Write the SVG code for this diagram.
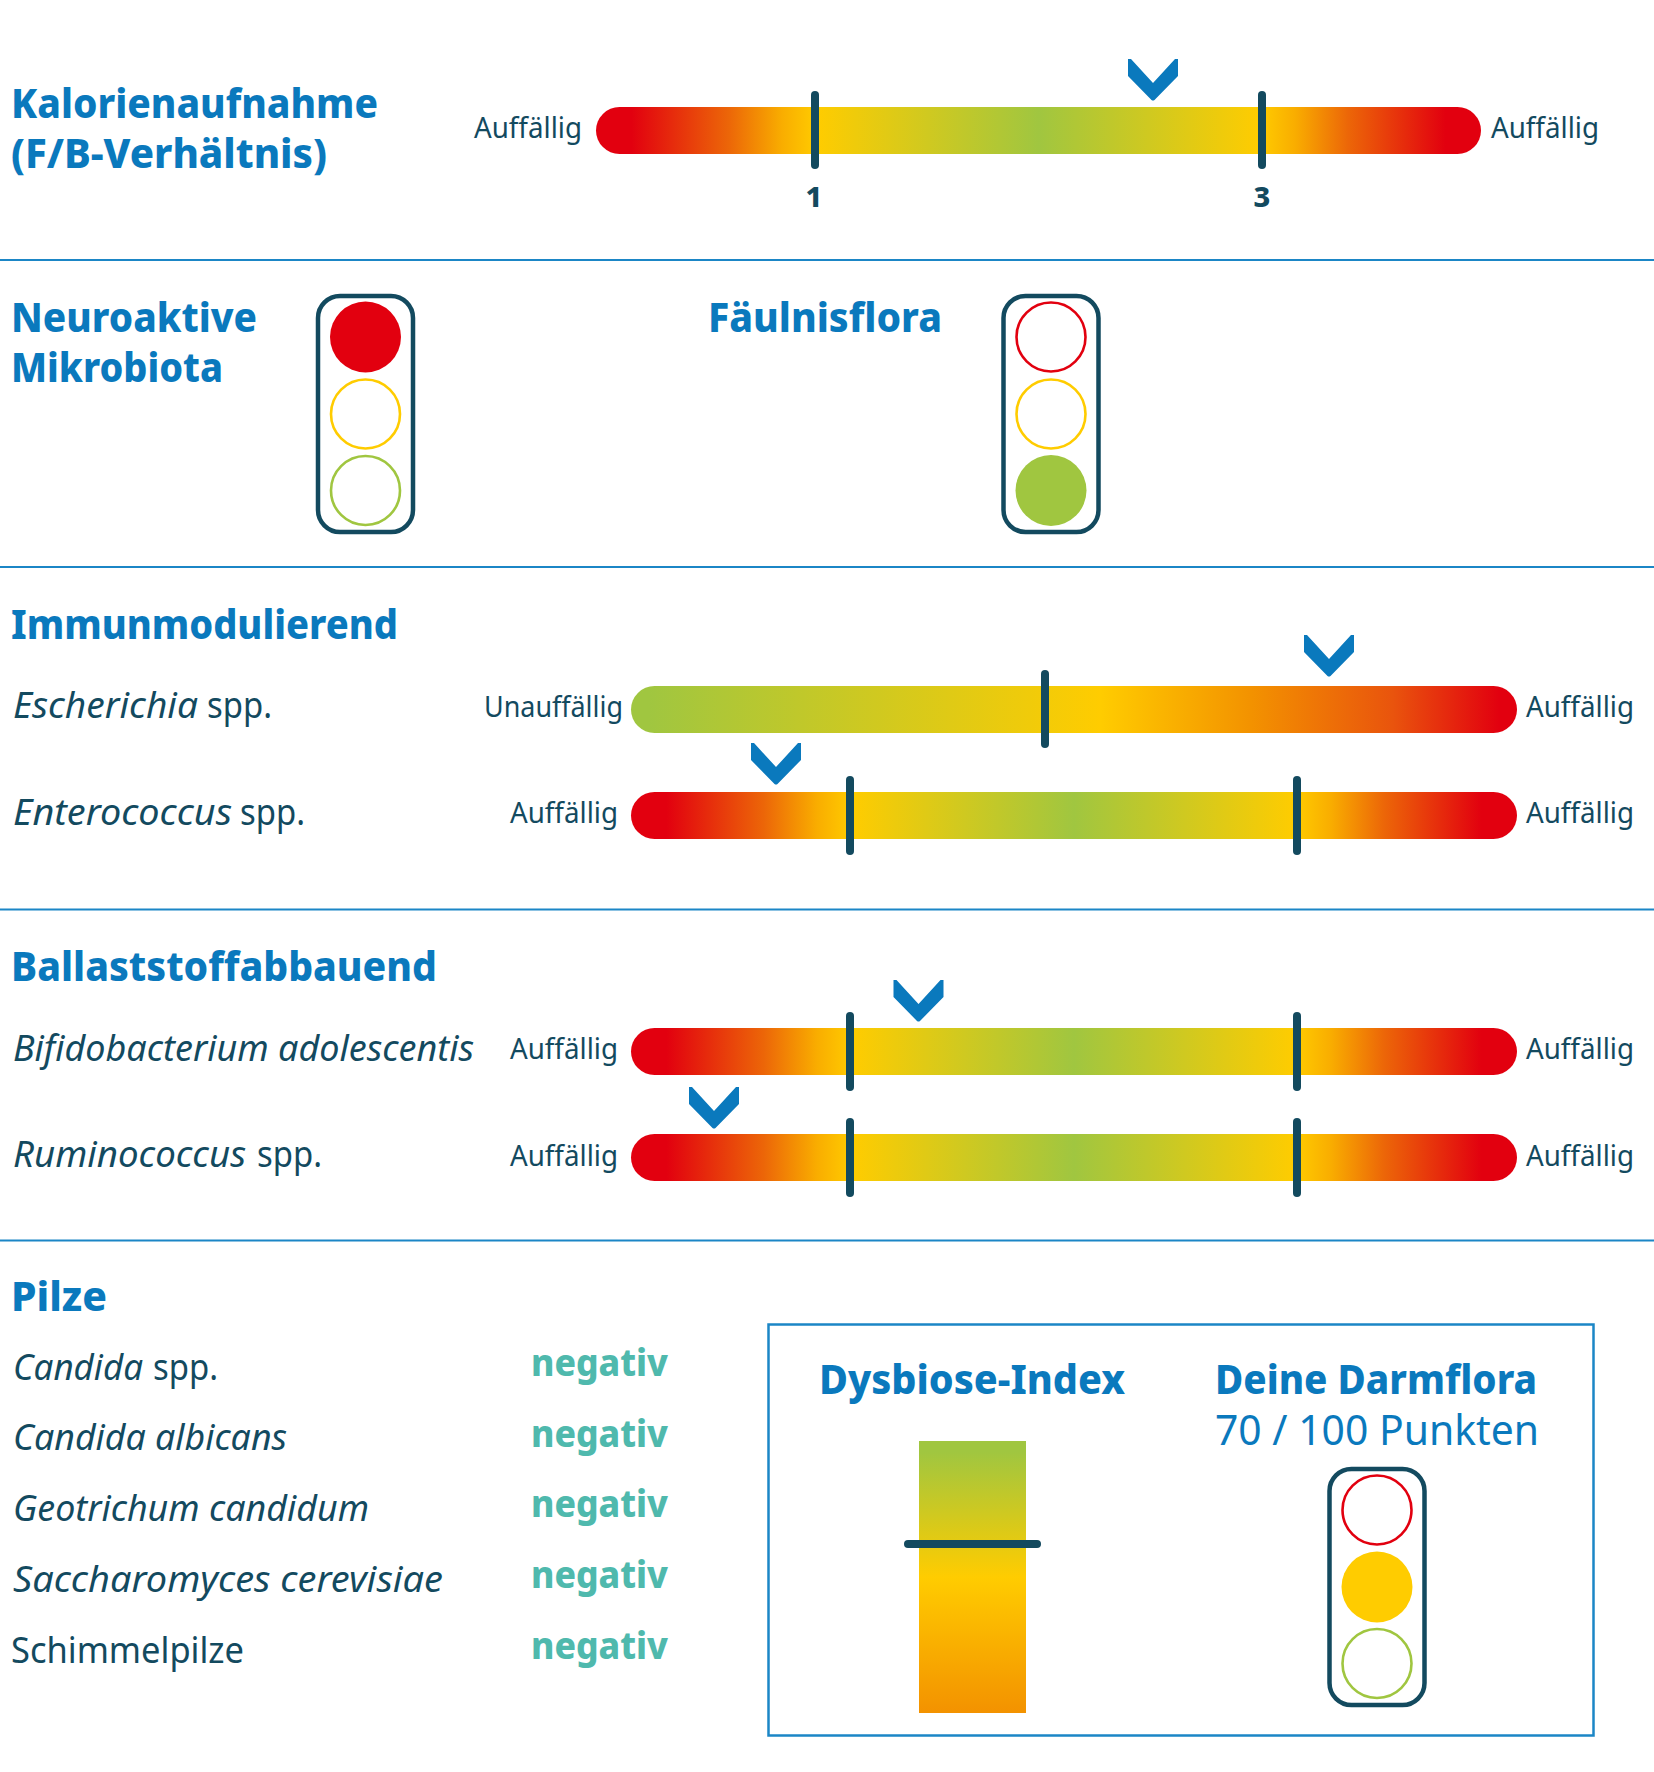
<svg xmlns="http://www.w3.org/2000/svg" width="1654" height="1772" viewBox="0 0 1654 1772">
<style>
text{font-family:"Noto Sans","Liberation Sans",sans-serif;fill:#134a5f}
.h{font-size:41px;font-weight:800;fill:#0a79bd}
.l{font-size:29px;font-weight:400}
.n{font-size:36px;font-weight:400}
.i{font-style:italic}
.num{font-size:29px;font-weight:800;text-anchor:middle}
.neg{font-size:38px;font-weight:800;fill:#4fb9ad}
.reg{font-size:41px;font-weight:400;fill:#0a79bd}
.sep{stroke:#1b86c6;stroke-width:2.2;fill:none}
.tick{stroke:#134a5f;stroke-width:8;stroke-linecap:round;fill:none}
.frame{fill:#fff;stroke:#134a5f;stroke-width:4.500}
.r{fill:#e2000f}.y{fill:#ffcc00}.g{fill:#a0c640}
.ro{fill:#fff;stroke:#e2000f;stroke-width:2.600}.yo{fill:#fff;stroke:#ffcc00;stroke-width:2.600}.go{fill:#fff;stroke:#a0c640;stroke-width:2.600}
.chev{fill:#0a79bd}
</style>
<defs>
<linearGradient id="gradAA">
<stop offset="0.04" stop-color="#e2000f"/><stop offset="0.15" stop-color="#ec6608"/><stop offset="0.21" stop-color="#f9ad00"/><stop offset="0.25" stop-color="#ffcc00"/><stop offset="0.5" stop-color="#a0c640"/><stop offset="0.75" stop-color="#ffcc00"/><stop offset="0.79" stop-color="#f9ad00"/><stop offset="0.85" stop-color="#ec6608"/><stop offset="0.96" stop-color="#e2000f"/>
</linearGradient>
<linearGradient id="gradUA">
<stop offset="0.02" stop-color="#a0c640"/><stop offset="0.53" stop-color="#ffcc00"/><stop offset="0.7" stop-color="#f39200"/><stop offset="0.86" stop-color="#e9540d"/><stop offset="0.98" stop-color="#e2000f"/>
</linearGradient>
<linearGradient id="gradV" x1="0" y1="0" x2="0" y2="1">
<stop offset="0.04" stop-color="#a0c640"/><stop offset="0.5" stop-color="#ffcc00"/><stop offset="1" stop-color="#f39200"/>
</linearGradient>
<path id="chevron" class="chev" d="M-25 0H-22L0 24L22 0H25V17L1.500 41Q0 42-1.500 41L-25 17Z"/>
</defs>

<g id="connectors">
<line class="sep" x1="0" y1="260" x2="1654" y2="260"/>
<line class="sep" x1="0" y1="567" x2="1654" y2="567"/>
<line class="sep" x1="0" y1="909.500" x2="1654" y2="909.500"/>
<line class="sep" x1="0" y1="1240.500" x2="1654" y2="1240.500"/>
</g>

<g id="kalorien">
<text class="h" x="11" y="118" textLength="367" lengthAdjust="spacingAndGlyphs">Kalorienaufnahme</text>
<text class="h" x="11" y="168" textLength="316" lengthAdjust="spacingAndGlyphs">(F/B-Verhältnis)</text>
<text class="l" x="474" y="138" textLength="108" lengthAdjust="spacingAndGlyphs">Auffällig</text>
<rect x="596" y="107" width="885" height="47" rx="23.500" fill="url(#gradAA)"/>
<line class="tick" x1="815" y1="95" x2="815" y2="165"/>
<line class="tick" x1="1262" y1="95" x2="1262" y2="165"/>
<text class="num" x="814" y="207">1</text>
<text class="num" x="1262" y="207">3</text>
<use href="#chevron" x="1153" y="59"/>
<text class="l" x="1491" y="138" textLength="108" lengthAdjust="spacingAndGlyphs">Auffällig</text>
</g>

<g id="neuroaktive">
<text class="h" x="11" y="332" textLength="246" lengthAdjust="spacingAndGlyphs">Neuroaktive</text>
<text class="h" x="11" y="382" textLength="212" lengthAdjust="spacingAndGlyphs">Mikrobiota</text>
<rect class="frame" x="318" y="296" width="95" height="236" rx="22"/>
<circle class="r" cx="365.500" cy="337" r="35.500"/>
<circle class="yo" cx="365.500" cy="414" r="34.500"/>
<circle class="go" cx="365.500" cy="490.500" r="34.500"/>
</g>

<g id="faeulnisflora">
<text class="h" x="708" y="332" textLength="234" lengthAdjust="spacingAndGlyphs">Fäulnisflora</text>
<rect class="frame" x="1003.500" y="296" width="95" height="236" rx="22"/>
<circle class="ro" cx="1051" cy="337" r="34.500"/>
<circle class="yo" cx="1051" cy="414" r="34.500"/>
<circle class="g" cx="1051" cy="490.500" r="35.500"/>
</g>

<g id="immunmodulierend">
<text class="h" x="11" y="639" textLength="387" lengthAdjust="spacingAndGlyphs">Immunmodulierend</text>
<text class="n i" x="13" y="718" textLength="185" lengthAdjust="spacingAndGlyphs">Escherichia</text>
<text class="n" x="207" y="718" textLength="65" lengthAdjust="spacingAndGlyphs">spp.</text>
<text class="l" x="484" y="717" textLength="139" lengthAdjust="spacingAndGlyphs">Unauffällig</text>
<rect x="631" y="686" width="886" height="47" rx="23.500" fill="url(#gradUA)"/>
<line class="tick" x1="1045" y1="674" x2="1045" y2="744"/>
<use href="#chevron" x="1329" y="635"/>
<text class="l" x="1526" y="717" textLength="108" lengthAdjust="spacingAndGlyphs">Auffällig</text>
<text class="n i" x="13" y="825" textLength="219" lengthAdjust="spacingAndGlyphs">Enterococcus</text>
<text class="n" x="240" y="825" textLength="65" lengthAdjust="spacingAndGlyphs">spp.</text>
<text class="l" x="510" y="823" textLength="108" lengthAdjust="spacingAndGlyphs">Auffällig</text>
<rect x="631" y="792" width="886" height="47" rx="23.500" fill="url(#gradAA)"/>
<line class="tick" x1="850" y1="780" x2="850" y2="851"/>
<line class="tick" x1="1297" y1="780" x2="1297" y2="851"/>
<use href="#chevron" x="776" y="743"/>
<text class="l" x="1526" y="823" textLength="108" lengthAdjust="spacingAndGlyphs">Auffällig</text>
</g>

<g id="ballaststoffabbauend">
<text class="h" x="11" y="981" textLength="426" lengthAdjust="spacingAndGlyphs">Ballaststoffabbauend</text>
<text class="n i" x="13" y="1061" textLength="461" lengthAdjust="spacingAndGlyphs">Bifidobacterium adolescentis</text>
<text class="l" x="510" y="1059" textLength="108" lengthAdjust="spacingAndGlyphs">Auffällig</text>
<rect x="631" y="1028" width="886" height="47" rx="23.500" fill="url(#gradAA)"/>
<line class="tick" x1="850" y1="1016" x2="850" y2="1087"/>
<line class="tick" x1="1297" y1="1016" x2="1297" y2="1087"/>
<use href="#chevron" x="918.500" y="980"/>
<text class="l" x="1526" y="1059" textLength="108" lengthAdjust="spacingAndGlyphs">Auffällig</text>
<text class="n i" x="13" y="1167" textLength="233" lengthAdjust="spacingAndGlyphs">Ruminococcus</text>
<text class="n" x="257" y="1167" textLength="65" lengthAdjust="spacingAndGlyphs">spp.</text>
<text class="l" x="510" y="1166" textLength="108" lengthAdjust="spacingAndGlyphs">Auffällig</text>
<rect x="631" y="1134" width="886" height="47" rx="23.500" fill="url(#gradAA)"/>
<line class="tick" x1="850" y1="1122" x2="850" y2="1193"/>
<line class="tick" x1="1297" y1="1122" x2="1297" y2="1193"/>
<use href="#chevron" x="714" y="1087"/>
<text class="l" x="1526" y="1166" textLength="108" lengthAdjust="spacingAndGlyphs">Auffällig</text>
</g>

<g id="pilze">
<text class="h" x="11" y="1311" textLength="96" lengthAdjust="spacingAndGlyphs">Pilze</text>
<text class="n i" x="13" y="1380" textLength="130" lengthAdjust="spacingAndGlyphs">Candida</text>
<text class="n" x="153" y="1380" textLength="65" lengthAdjust="spacingAndGlyphs">spp.</text>
<text class="n i" x="13" y="1450" textLength="274" lengthAdjust="spacingAndGlyphs">Candida albicans</text>
<text class="n i" x="13" y="1521" textLength="356" lengthAdjust="spacingAndGlyphs">Geotrichum candidum</text>
<text class="n i" x="13" y="1592" textLength="430" lengthAdjust="spacingAndGlyphs">Saccharomyces cerevisiae</text>
<text class="n" x="11" y="1663" textLength="233" lengthAdjust="spacingAndGlyphs">Schimmelpilze</text>
<text class="neg" x="531" y="1376" textLength="137" lengthAdjust="spacingAndGlyphs">negativ</text>
<text class="neg" x="531" y="1447" textLength="137" lengthAdjust="spacingAndGlyphs">negativ</text>
<text class="neg" x="531" y="1517" textLength="137" lengthAdjust="spacingAndGlyphs">negativ</text>
<text class="neg" x="531" y="1588" textLength="137" lengthAdjust="spacingAndGlyphs">negativ</text>
<text class="neg" x="531" y="1659" textLength="137" lengthAdjust="spacingAndGlyphs">negativ</text>
</g>

<g id="dysbiose-box">
<rect x="768.500" y="1324.500" width="825" height="411" fill="none" stroke="#1b86c6" stroke-width="2.500"/>
<text class="h" x="819" y="1394" textLength="306" lengthAdjust="spacingAndGlyphs">Dysbiose-Index</text>
<rect x="919" y="1441" width="107" height="272" fill="url(#gradV)"/>
<line x1="908" y1="1544" x2="1037" y2="1544" stroke="#134a5f" stroke-width="8" stroke-linecap="round"/>
<text class="h" x="1215" y="1394" textLength="322" lengthAdjust="spacingAndGlyphs">Deine Darmflora</text>
<text class="reg" x="1215" y="1445" textLength="324" lengthAdjust="spacingAndGlyphs">70 / 100 Punkten</text>
<rect class="frame" x="1329.500" y="1469" width="95" height="236" rx="22"/>
<circle class="ro" cx="1377" cy="1510" r="34.500"/>
<circle class="y" cx="1377" cy="1587" r="35.500"/>
<circle class="go" cx="1377" cy="1663.500" r="34.500"/>
</g>
</svg>
